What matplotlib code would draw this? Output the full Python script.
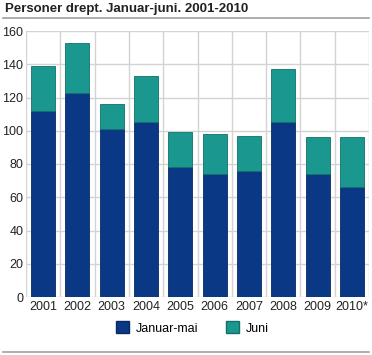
import matplotlib
matplotlib.use("Agg")
import matplotlib.pyplot as plt
from matplotlib.patches import Patch
import numpy as np

plt.rcParams["font.family"] = ["Liberation Sans", "DejaVu Sans"]

years = ["2001", "2002", "2003", "2004", "2005", "2006", "2007", "2008", "2009", "2010*"]
jan_mai = [112, 123, 101, 105, 78, 74, 76, 105, 74, 66]
juni = [27, 30, 15, 28, 21, 24, 21, 32, 22, 30]
yticks = [0, 20, 40, 60, 80, 100, 120, 140, 160]

c_blue = "#0a3885"
c_teal = "#1a9890"

fig = plt.figure(figsize=(3.72, 3.55), dpi=100)
W, H = 372, 355
ax = fig.add_axes([26 / W, (H - 297) / H, (369 - 26) / W, (297 - 31) / H])

x = np.arange(len(years))
ax.bar(x, jan_mai, width=0.7, color=c_blue, edgecolor="#062a66", linewidth=0.6, zorder=3)
ax.bar(x, juni, bottom=jan_mai, width=0.7, color=c_teal, edgecolor="#127069", linewidth=0.6, zorder=3)

ax.set_xlim(-0.5, len(years) - 0.5)
ax.set_ylim(0, 160)
ax.set_yticks(yticks)
ax.set_xticks(x)
ax.set_xticklabels(years)
for b in np.arange(-0.5, len(years), 1.0):
    ax.axvline(b, color="#d3d3d3", linewidth=1.0, zorder=1)
for t in yticks:
    ax.axhline(t, color="#d3d3d3", linewidth=1.0, zorder=1)
for s in ax.spines.values():
    s.set_visible(False)
ax.tick_params(axis="both", length=0, labelsize=9, colors="#222222", pad=3)
ax.tick_params(axis="y", pad=2)

fig.text(5 / W, 1 - 9 / H, "Personer drept. Januar-juni. 2001-2010", fontsize=9.5,
         fontweight="bold", va="center", ha="left", color="#222222")
fig.add_artist(plt.Line2D([3 / W, 369 / W], [1 - 18 / H, 1 - 18 / H], color="#a0a0a0", linewidth=1.2))
fig.add_artist(plt.Line2D([3 / W, 369 / W], [1 - 352 / H, 1 - 352 / H], color="#a0a0a0", linewidth=1.2))

handles = [Patch(facecolor=c_blue, edgecolor="#062a66", label="Januar-mai"),
           Patch(facecolor=c_teal, edgecolor="#127069", label="Juni")]
fig.legend(handles=handles, loc="center", bbox_to_anchor=(192 / W, 1 - 328 / H), ncol=2,
           frameon=False, fontsize=9, handlelength=1.1, handleheight=1.1, columnspacing=2.2,
           handletextpad=0.5)

fig.savefig("out.png", dpi=100)
